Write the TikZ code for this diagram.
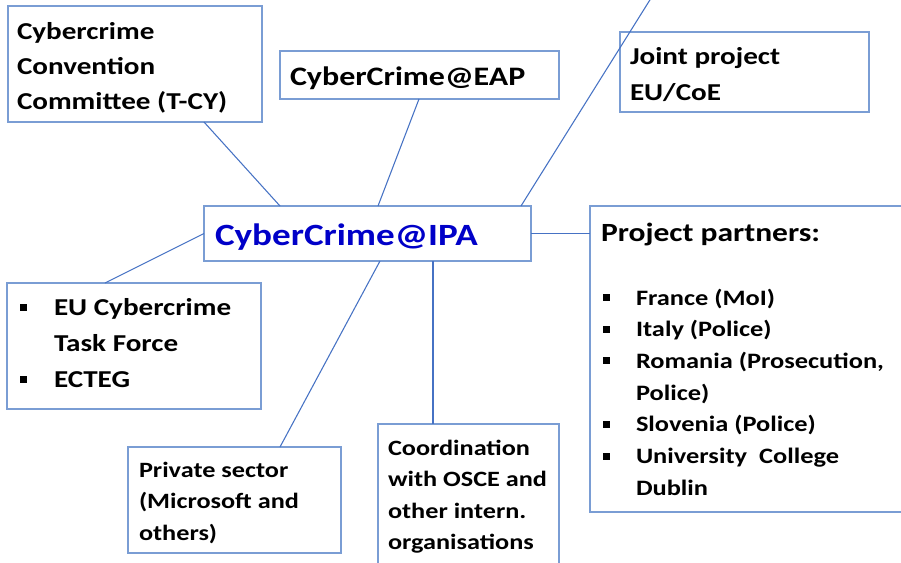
\documentclass[tikz,border=0pt]{standalone}
\usepackage{fontspec}
\setmainfont{Carlito}[FakeStretch=1.2]
\usetikzlibrary{calc}
\definecolor{boxline}{RGB}{122,157,212}
\definecolor{conn}{RGB}{70,114,196}
\definecolor{titleblue}{RGB}{0,0,200}
\newcommand{\bulA}{\makebox[25.5pt][l]{\rule[3.3pt]{5.25pt}{5.25pt}}}
\newcommand{\bulB}{\makebox[24.75pt][l]{\rule[3pt]{5.25pt}{5.25pt}}}
\newcommand{\tlines}[1]{\begin{tabular}[t]{@{}l@{}}#1\end{tabular}}
\begin{document}
\begin{tikzpicture}[x=0.75pt,y=-0.75pt,
  box/.style={draw=boxline,line width=1pt,rectangle,inner sep=0pt,outer sep=0pt,anchor=north west},
  txt/.style={inner sep=0pt,outer sep=0pt,anchor=base west,font=\bfseries},
  mid/.style={txt,font=\fontsize{18.2pt}{26.25pt}\selectfont\bfseries},
  small/.style={txt,font=\fontsize{16.4pt}{23.7pt}\selectfont\bfseries},
  link/.style={draw=conn,line width=0.8pt}]
\useasboundingbox (0,0) rectangle (901,562);
\clip (0,0) rectangle (901,562);
\fill[white] (0,0) rectangle (901,562);
% boxes
\node[box,minimum width=254*0.75pt,minimum height=116*0.75pt] (tcy) at (8,6) {};
\node[box,minimum width=279*0.75pt,minimum height=48*0.75pt] (eap) at (280,51) {};
\node[box,minimum width=249*0.75pt,minimum height=80*0.75pt] (joint) at (620,32) {};
\node[box,minimum width=327*0.75pt,minimum height=55*0.75pt] (ipa) at (204,206) {};
\node[box,minimum width=254*0.75pt,minimum height=126*0.75pt] (eu) at (7,283) {};
\node[box,minimum width=330*0.75pt,minimum height=306*0.75pt] (partners) at (590,206) {};
\node[box,minimum width=213*0.75pt,minimum height=106*0.75pt] (private) at (128,447) {};
\node[box,minimum width=181*0.75pt,minimum height=150*0.75pt] (coord) at (378,424) {};
% texts
\node[mid] (tcyt) at (17,39) {\tlines{Cybercrime\\Convention\\Committee (T-CY)}};
\node[txt,font=\fontsize{20pt}{24pt}\selectfont\bfseries] (eapt) at (290,85) {CyberCrime@EAP};
\node[mid,font=\fontsize{18.2pt}{27pt}\selectfont\bfseries] (jointt) at (630,64) {\tlines{Joint project\\EU/CoE}};
\node[txt,text=titleblue,font=\fontsize{23.2pt}{27pt}\selectfont\bfseries] (ipat) at (215,245) {CyberCrime@IPA};
\node[mid,font=\fontsize{18.2pt}{27pt}\selectfont\bfseries] (eut) at (20,315) {\tlines{\bulA EU Cybercrime\\\hspace*{25.5pt}Task Force\\\bulA ECTEG}};
\node[txt,font=\fontsize{19.7pt}{24pt}\selectfont\bfseries] (partnerst) at (601,241) {Project partners:};
\node[txt,font=\fontsize{16.5pt}{23.8pt}\selectfont\bfseries] (listt) at (603,305) {\tlines{\bulB France (MoI)\\\bulB Italy (Police)\\\bulB Romania (Prosecution,\\\hspace*{24.75pt}Police)\\\bulB Slovenia (Police)\\\bulB University\ \ College\\\hspace*{24.75pt}Dublin}};
\node[small] (privatet) at (139,477) {\tlines{Private sector\\(Microsoft and\\others)}};
\node[small] (coordt) at (388,455) {\tlines{Coordination\\with OSCE and\\other intern.\\organisations}};
% connectors
\coordinate (topend) at (653,-5);
\draw[link] ($(tcy.south west)+(196,0)$) -- ($(ipa.north west)+(76,0)$);
\draw[link] ($(eap.south west)+(139,0)$) -- ($(ipa.north west)+(174,0)$);
\draw[link] ($(ipa.north west)+(317,0)$) -- (topend);
\draw[link] (ipa.east) -- (partners.west |- ipa.east);
\draw[link] (ipa.west) -- ($(eu.north west)+(98,0)$);
\draw[link] ($(ipa.south west)+(176,0)$) -- ($(private.north west)+(152,0)$);
\draw[link] ($(ipa.south west)+(229,0)$) -- ($(coord.north west)+(55,0)$);
\end{tikzpicture}
\end{document}
